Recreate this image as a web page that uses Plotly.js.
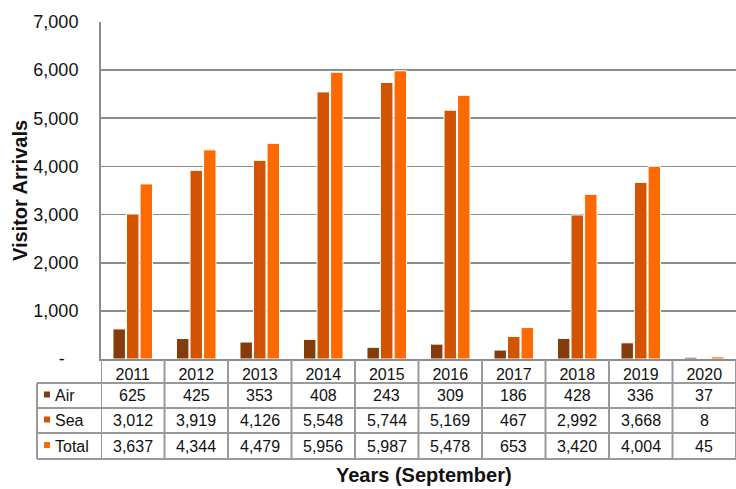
<!DOCTYPE html>
<html>
<head>
<meta charset="utf-8">
<script src="https://cdn.plot.ly/plotly-3.0.1.min.js"></script>
<style>html,body{margin:0;padding:0;background:#fff;}#chart{width:736px;height:489px;}</style>
</head>
<body>
<div id="chart"></div>
<script>
const years = ['2011','2012','2013','2014','2015','2016','2017','2018','2019','2020'];
const air = [625,425,353,408,243,309,186,428,336,37];
const sea = [3012,3919,4126,5548,5744,5169,467,2992,3668,8];
const total = [3637,4344,4479,5956,5987,5478,653,3420,4004,45];
const seriesNames = ['Air','Sea','Total'];
const seriesColors = ['#843C0C','#D35400','#FF6A00'];
const yTickVals = [0,1000,2000,3000,4000,5000,6000,7000];
const yTickText = ['-  \u2009','1,000','2,000','3,000','4,000','5,000','6,000','7,000'];

const W = 736, H = 489, ML = 101, MR = 0, MT = 22, MB = 130;
const PW = W - ML - MR, PH = H - MT - MB;
const py = p => (H - MB - p) / PH;      // pixel y -> paper
const px = p => (p - ML) / PW;          // pixel x -> paper
const font = 'Liberation Sans, Arial, sans-serif';
const gridC = '#8c8c8c';
const tblC = '#9a9a9a';
const txtC = '#111';

const seriesData = [air, sea, total];
const traces = seriesData.map((d, k) => ({
  type: 'bar', name: seriesNames[k], x: years, y: d,
  marker: {color: seriesColors[k], line: {color: '#ffffff', width: 1}},
  hoverinfo: 'x+y+name'
}));

const rowsPx = [[383,408],[408,433],[433,459]];
const shapes = [];
const annotations = [];
[383,408,433,459].forEach(yp => {
  shapes.push({type:'line', xref:'paper', yref:'paper', x0:px(37), x1:1, y0:py(yp), y1:py(yp), line:{color:tblC, width:2}});
});
for (let i = 0; i <= years.length; i++) {
  shapes.push({type:'line', xref:'x', yref:'paper', x0:i-0.5, x1:i-0.5, y0:py(360), y1:py(459), line:{color:tblC, width:2}});
}
shapes.push({type:'line', xref:'paper', yref:'paper', x0:px(37), x1:px(37), y0:py(383), y1:py(459), line:{color:tblC, width:2}});

seriesData.forEach((d, k) => {
  const yc = (rowsPx[k][0] + rowsPx[k][1]) / 2;
  shapes.push({type:'rect', xref:'paper', yref:'paper', x0:px(44), x1:px(50), y0:py(yc+2), y1:py(yc-4), fillcolor:seriesColors[k], line:{width:0}});
  annotations.push({xref:'paper', yref:'paper', x:px(53), y:py(yc), xanchor:'left', yanchor:'middle', text:seriesNames[k], showarrow:false, font:{family:font, size:16, color:txtC}});
  d.forEach((v, i) => {
    annotations.push({xref:'x', yref:'paper', x:i, y:py(yc), xanchor:'center', yanchor:'middle', text:v.toLocaleString('en-US'), showarrow:false, font:{family:font, size:16, color:txtC}});
  });
});
annotations.push({xref:'paper', yref:'paper', x:px(424), y:py(488), xanchor:'center', yanchor:'bottom', text:'<b>Years (September)</b>', showarrow:false, font:{family:font, size:20, color:txtC}});

const layout = {
  width: W, height: H,
  margin: {l: ML, r: MR, t: MT, b: MB, pad: 0},
  paper_bgcolor: '#fff', plot_bgcolor: '#fff',
  showlegend: false,
  barmode: 'group', bargap: 0.36, bargroupgap: 0.08,
  font: {family: font, size: 16, color: txtC},
  xaxis: {
    type: 'category', range: [-0.5, 9.5], fixedrange: true,
    showgrid: false, zeroline: false,
    showline: true, linecolor: gridC, linewidth: 2,
    ticks: '', ticklabelstandoff: 0,
    tickfont: {family: font, size: 16, color: txtC}
  },
  yaxis: {
    range: [0, 7000], fixedrange: true,
    tickvals: yTickVals, ticktext: yTickText,
    showgrid: true, gridcolor: gridC, gridwidth: 1.6,
    zeroline: false, showline: true, linecolor: gridC, linewidth: 2,
    ticks: '', ticklabelstandoff: 17,
    tickfont: {family: font, size: 18, color: txtC},
    title: {text: '<b>Visitor Arrivals</b>', font: {family: font, size: 20, color: txtC}, standoff: 0}
  },
  shapes: shapes,
  annotations: annotations
};

Plotly.newPlot('chart', traces, layout, {displayModeBar: false, staticPlot: true});
</script>
</body>
</html>
